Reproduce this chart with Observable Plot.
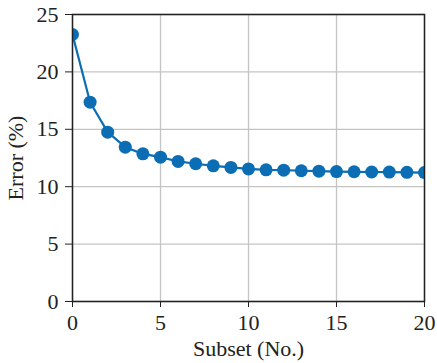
<!DOCTYPE html>
<html>
<head>
<meta charset="utf-8">
<script src="https://cdn.jsdelivr.net/npm/d3@7"></script>
<script src="https://cdn.jsdelivr.net/npm/@observablehq/plot@0.6"></script>
<style>
  html, body { margin: 0; padding: 0; background: #fff; }
</style>
</head>
<body>
<div id="chart"></div>
<script>
const subsets = [0,1,2,3,4,5,6,7,8,9,10,11,12,13,14,15,16,17,18,19,20];
const errors = [23.26,17.36,14.75,13.44,12.86,12.57,12.2,12.0,11.82,11.68,11.55,11.47,11.44,11.39,11.35,11.32,11.3,11.28,11.27,11.25,11.23];
const xTicks = [0,5,10,15,20];
const yTicks = [0,5,10,15,20,25];

const data = subsets.map((s, i) => ({subset: s, error: errors[i]}));
const color = "#0b6db3";

const chart = Plot.plot({
  width: 437,
  height: 363,
  marginLeft: 72,
  marginRight: 13,
  marginTop: 14,
  marginBottom: 62,
  style: {fontFamily: "'Liberation Serif', serif", fontSize: "22px", color: "#222", background: "#fff"},
  x: {domain: [0, 20]},
  y: {domain: [0, 25]},
  marks: [
    Plot.gridX(xTicks, {stroke: "#c4c4c4", strokeOpacity: 1, strokeWidth: 1.3}),
    Plot.gridY(yTicks, {stroke: "#c4c4c4", strokeOpacity: 1, strokeWidth: 1.3}),
    Plot.line(data, {x: "subset", y: "error", stroke: color, strokeWidth: 2.2, clip: true}),
    Plot.dot(data, {x: "subset", y: "error", fill: color, r: 6.5, clip: true}),
    Plot.frame({stroke: "#222", strokeWidth: 1.5}),
    Plot.axisX({ticks: xTicks, tickSize: 6, tickPadding: 7, fontSize: 22, label: "Subset (No.)", labelAnchor: "center", labelArrow: "none", labelOffset: 54, stroke: "#222"}),
    Plot.axisY({ticks: yTicks, tickSize: 7, tickPadding: 7, fontSize: 22, label: "Error (%)", labelAnchor: "center", labelArrow: "none", labelOffset: 65, stroke: "#222"})
  ]
});
document.getElementById("chart").appendChild(chart);
</script>
</body>
</html>
